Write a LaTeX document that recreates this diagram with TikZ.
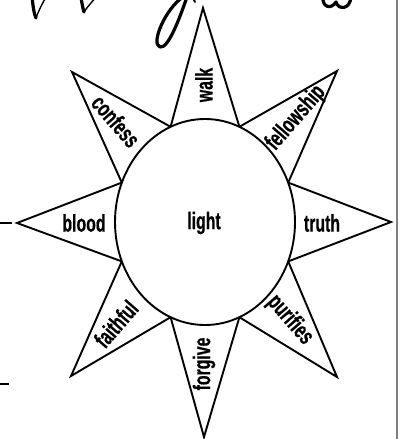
\documentclass[tikz,border=0pt]{standalone}
\usepackage{fontspec}
\newfontfamily\lblfont[FakeStretch=0.66, FakeBold=0.5]{Liberation Sans}
\usetikzlibrary{shapes.geometric}
\tikzset{
  ray/.style={draw=black, line width=1.9pt, line join=miter},
  lbl/.style={font=\lblfont\bfseries\fontsize{24}{26}\selectfont, inner sep=0pt},
  script/.style={draw=black, line width=3.2pt, line cap=round, line join=round},
  edge/.style={draw=black, line width=1.4pt}
}
\begin{document}
\begin{tikzpicture}[x=1pt,y=-1pt]
\useasboundingbox (0,0) rectangle (399,439);
\fill[white] (0,0) rectangle (399,439);
% centre disc
\node[ellipse, draw=black, line width=1.9pt, minimum width=180pt, minimum height=206pt, inner sep=0pt] (c) at (205,222) {};
\node[lbl] (light) at (204,223) {light};
% base points on the ellipse
\coordinate (b1) at (288.2,182.6);
\coordinate (b2) at (239.4,126.8);
\coordinate (b3) at (170.6,126.8);
\coordinate (b4) at (121.8,182.6);
\coordinate (b5) at (121.8,261.4);
\coordinate (b6) at (170.6,317.2);
\coordinate (b7) at (239.4,317.2);
\coordinate (b8) at (288.2,261.4);
% tips
\coordinate (tN) at (203,8);
\coordinate (tNE) at (337,71);
\coordinate (tE) at (391,222);
\coordinate (tSE) at (337,377);
\coordinate (tS) at (204,437);
\coordinate (tSW) at (71,376);
\coordinate (tW) at (17,223);
\coordinate (tNW) at (72,72);
% rays
\draw[ray] (b3) -- (tN) -- (b2);
\draw[ray] (b2) -- (tNE) -- (b1);
\draw[ray] (b1) -- (tE) -- (b8);
\draw[ray] (b8) -- (tSE) -- (b7);
\draw[ray] (b7) -- (tS) -- (b6);
\draw[ray] (b6) -- (tSW) -- (b5);
\draw[ray] (b5) -- (tW) -- (b4);
\draw[ray] (b4) -- (tNW) -- (b3);
% labels
\node[lbl, rotate=90] (walk) at (204,85) {walk};
\node[lbl, rotate=-49] (confess) at (116,121) {confess};
\node[lbl, rotate=49] (fellowship) at (296,118) {fellowship};
\node[lbl] (blood) at (84,223) {blood};
\node[lbl] (truth) at (322,223) {truth};
\node[lbl, rotate=-49] (purifies) at (290,320) {purifies};
\node[lbl, rotate=90] (forgive) at (204,364) {forgive};
\node[lbl, rotate=49] (faithful) at (116,324) {faithful};
% cut-off script title
\draw[script] (32,-3) .. controls (33,6) and (34,14) .. (36,18);
\draw[script, line width=1.4pt] (36,18) .. controls (39,10) and (42,4) .. (46,-3);
\draw[script] (81,-3) .. controls (82,4) and (83,9) .. (84,12);
\draw[script, line width=1.4pt] (84,12) .. controls (88,6) and (92,2) .. (96,-3);
\draw[script] (183,-3) .. controls (166,8) and (150,44) .. (160,47) .. controls (168,49) and (179,20) .. (187,-3);
\draw[script, line width=1.8pt] (193,-2) -- (195,2);
\draw[script] (323,-3) .. controls (322,7) and (331,10) .. (336,2) .. controls (338,10) and (350,10) .. (351,-3);
% page edge marks
\draw[edge] (0,223) -- (12,223);
\draw[edge] (0,384) -- (9,384);
\draw[draw=gray, line width=1.5pt] (397,0) -- (397,439);
\end{tikzpicture}
\end{document}
